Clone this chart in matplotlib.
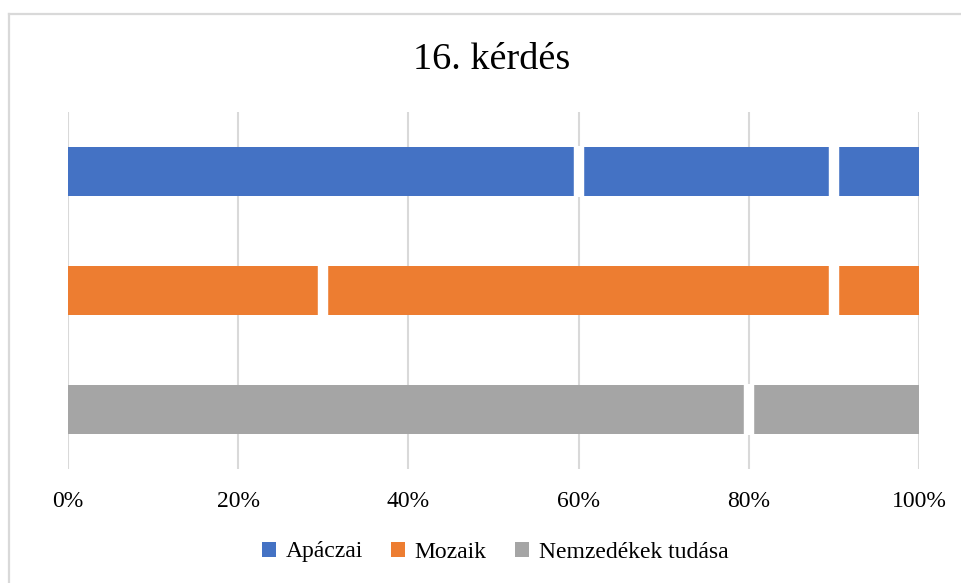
import matplotlib
matplotlib.use("Agg")
import matplotlib.pyplot as plt
from matplotlib.patches import Patch
from matplotlib.lines import Line2D
import numpy as np

# adatok
categories = ["Apáczai", "Mozaik", "Nemzedékek tudása"]
apaczai = [0.6, 0.3, 0.1]
mozaik = [0.3, 0.6, 0.1]
nemzedekek = [0.8, 0.2]
colors = ["#4472C4", "#ED7D31", "#A5A5A5"]
ticks = [0, 0.2, 0.4, 0.6, 0.8, 1.0]
tick_labels = ["0%", "20%", "40%", "60%", "80%", "100%"]

plt.rcParams["font.family"] = ["Liberation Serif", "DejaVu Serif"]

fig = plt.figure(figsize=(9.61, 5.83), dpi=100)
ax = fig.add_axes([68 / 961, 1 - 469 / 583, 851 / 961, 357 / 583])

bar_h = 0.405
rows = [apaczai, mozaik, nemzedekek]
for i, segs in enumerate(rows):
    left = 0
    for s in segs:
        ax.barh(i, s, left=left, height=bar_h, color=colors[i], edgecolor="none", zorder=2)
        left += s
    # feher hezagok a szegmensek kozott
    bounds = np.cumsum(segs)[:-1]
    for b in bounds:
        ax.vlines(b, i - bar_h / 2 - 0.01, i + bar_h / 2 + 0.01, color="white",
                  linewidth=7.5, zorder=3)

ax.set_xlim(0, 1)
ax.set_ylim(2.5, -0.5)
ax.set_xticks(ticks)
ax.set_xticklabels(tick_labels, fontsize=17)
ax.set_yticks([])
ax.tick_params(axis="x", length=0, pad=16)
ax.grid(axis="x", color="#d9d9d9", linewidth=1.5, zorder=0)
for sp in ax.spines.values():
    sp.set_visible(False)

fig.text(492 / 961, 1 - 60 / 583, "16. kérdés", ha="center", va="center", fontsize=27.5)

handles = [Patch(facecolor=c, edgecolor="none") for c in colors]
fig.legend(handles, categories, loc="center", bbox_to_anchor=(0.515, 1 - 552 / 583),
           ncol=3, frameon=False, fontsize=17, handlelength=0.6, handleheight=0.6,
           handletextpad=0.4, columnspacing=1.2)

# keret
x0 = 9 / 961
y0 = 1 - 14 / 583
fig.add_artist(Line2D([x0, x0], [0, y0], transform=fig.transFigure, color="#d9d9d9", linewidth=1.6))
fig.add_artist(Line2D([x0, 1], [y0, y0], transform=fig.transFigure, color="#d9d9d9", linewidth=1.6))

plt.savefig("out.png", dpi=100)
plt.close()
